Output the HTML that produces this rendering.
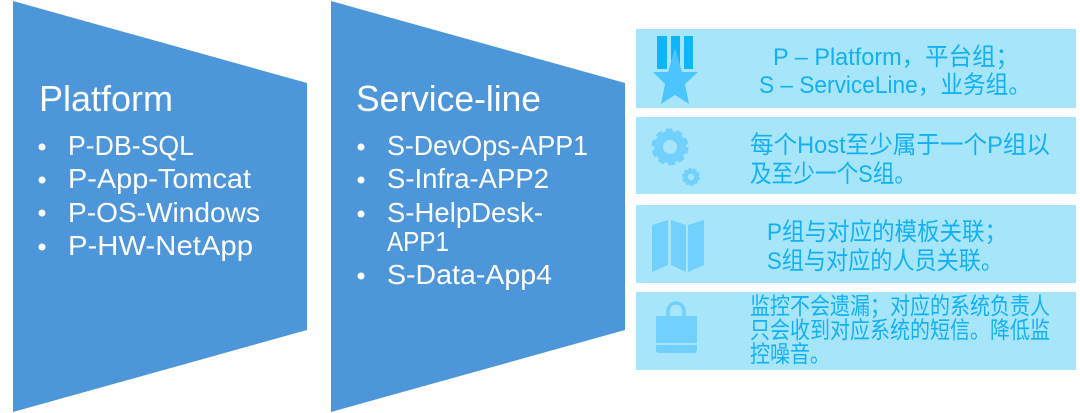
<!DOCTYPE html>
<html>
<head>
<meta charset="utf-8">
<style>
html,body{margin:0;padding:0;background:#fff;width:1080px;height:413px;overflow:hidden}
svg{display:block}
.w{font-family:"Liberation Sans",sans-serif;fill:#fff}
.h{font-size:36px}
.l{font-size:27.5px}
.c{font-family:"Liberation Sans","Noto Sans CJK SC",sans-serif;fill:#12b0f4}
.c1{font-size:24.5px}
.c2{font-size:23.5px}
</style>
</head>
<body>
<svg width="1080" height="413" viewBox="0 0 1080 413" xmlns="http://www.w3.org/2000/svg">
<rect width="1080" height="413" fill="#fff"/>
<polygon points="13,1 307,83 307,330 13,412" fill="#4e96da"/>
<polygon points="331,1 625,83 625,330 331,412" fill="#4e96da"/>

<text class="w h" x="39" y="111" textLength="134" lengthAdjust="spacingAndGlyphs">Platform</text>
<g fill="#fff">
<circle cx="42" cy="147" r="3.5"/><circle cx="42" cy="180" r="3.5"/><circle cx="42" cy="213" r="3.5"/><circle cx="42" cy="247" r="3.5"/>
<circle cx="361" cy="147" r="3.5"/><circle cx="361" cy="180" r="3.5"/><circle cx="361" cy="214" r="3.5"/><circle cx="361" cy="276" r="3.5"/>
</g>
<text class="w l" x="68" y="155" textLength="126" lengthAdjust="spacingAndGlyphs">P-DB-SQL</text>
<text class="w l" x="68" y="188" textLength="183" lengthAdjust="spacingAndGlyphs">P-App-Tomcat</text>
<text class="w l" x="68" y="222" textLength="192" lengthAdjust="spacingAndGlyphs">P-OS-Windows</text>
<text class="w l" x="68" y="255" textLength="185" lengthAdjust="spacingAndGlyphs">P-HW-NetApp</text>

<text class="w h" x="356" y="111" textLength="185" lengthAdjust="spacingAndGlyphs">Service-line</text>
<text class="w l" x="387" y="155" textLength="201" lengthAdjust="spacingAndGlyphs">S-DevOps-APP1</text>
<text class="w l" x="387" y="188" textLength="162" lengthAdjust="spacingAndGlyphs">S-Infra-APP2</text>
<text class="w l" x="387" y="222" textLength="156" lengthAdjust="spacingAndGlyphs">S-HelpDesk-</text>
<text class="w l" x="387" y="251" textLength="62" lengthAdjust="spacingAndGlyphs">APP1</text>
<text class="w l" x="387" y="284" textLength="165" lengthAdjust="spacingAndGlyphs">S-Data-App4</text>

<g fill="#a7e5fb">
<rect x="636" y="29" width="440" height="79"/>
<rect x="636" y="117" width="440" height="77"/>
<rect x="636" y="205" width="440" height="78"/>
<rect x="636" y="292" width="440" height="78"/>
</g>

<!-- medal -->
<g fill="#0fb5f9">
<rect x="657" y="36" width="10" height="33"/>
<rect x="671" y="36" width="9" height="33"/>
<rect x="684" y="36" width="9" height="33"/>
</g>
<polygon points="675,48 682,72 698,72 685,84 689,104 675,95 661,104 665,84 653,72 668,72" fill="#4cc5ff"/>

<!-- gears -->
<g fill="none" stroke="#72d0fd">
<circle cx="670" cy="147" r="11.5" stroke-width="9"/>
<circle cx="670" cy="147" r="16.5" stroke-width="4" stroke-dasharray="6.5 4"/>
<circle cx="691" cy="177" r="5.5" stroke-width="4.5"/>
<circle cx="691" cy="177" r="8" stroke-width="2" stroke-dasharray="3 2"/>
</g>

<!-- map -->
<g fill="#72d0fd">
<polygon points="652,225 668,220 668,265 652,272"/>
<polygon points="671,220 686,225 686,272 671,265"/>
<polygon points="688,225 704,220 704,265 688,272"/>
</g>

<!-- bag -->
<path d="M668,317 v-6 a8,8 0 0 1 16,0 v6" fill="none" stroke="#72d0fd" stroke-width="3.5"/>
<rect x="656" y="316" width="41" height="27" fill="#72d0fd"/>
<path d="M656,345 h41 v5 a3,3 0 0 1 -3,3 h-35 a3,3 0 0 1 -3,-3 z" fill="#72d0fd"/>

<text class="c c1" x="773" y="65" textLength="246" lengthAdjust="spacingAndGlyphs">P – Platform，平台组；</text>
<text class="c c1" x="759" y="93" textLength="272" lengthAdjust="spacingAndGlyphs">S – ServiceLine，业务组。</text>
<text class="c c1" x="750" y="153" textLength="300" lengthAdjust="spacingAndGlyphs">每个Host至少属于一个P组以</text>
<text class="c c1" x="750" y="182" textLength="166" lengthAdjust="spacingAndGlyphs">及至少一个S组。</text>
<text class="c c1" x="767" y="240" textLength="240" lengthAdjust="spacingAndGlyphs">P组与对应的模板关联；</text>
<text class="c c1" x="767" y="269" textLength="236" lengthAdjust="spacingAndGlyphs">S组与对应的人员关联。</text>
<text class="c c2" x="750" y="314" textLength="300" lengthAdjust="spacingAndGlyphs">监控不会遗漏；对应的系统负责人</text>
<text class="c c2" x="750" y="338" textLength="300" lengthAdjust="spacingAndGlyphs">只会收到对应系统的短信。降低监</text>
<text class="c c2" x="750" y="362" textLength="80" lengthAdjust="spacingAndGlyphs">控噪音。</text>
</svg>
</body>
</html>
